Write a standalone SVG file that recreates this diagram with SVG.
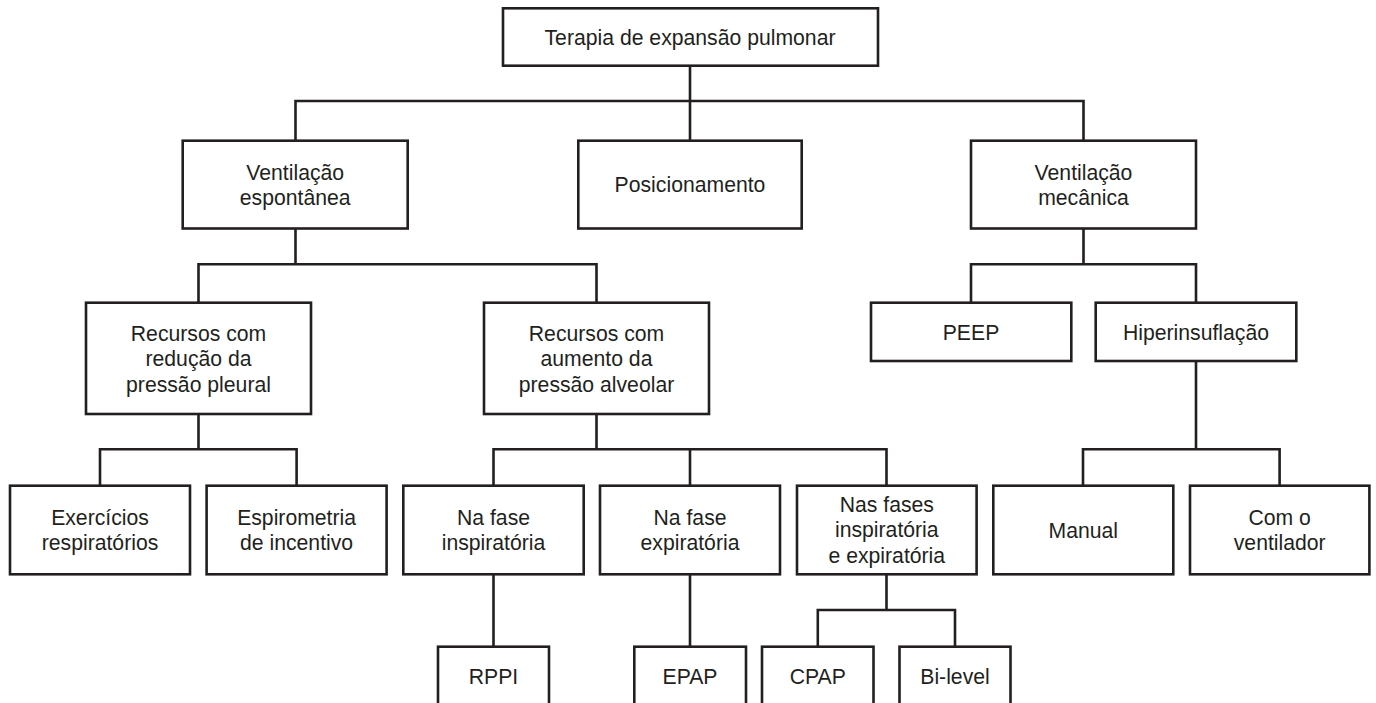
<svg xmlns="http://www.w3.org/2000/svg" width="1376" height="703" viewBox="0 0 1376 703">
<style>
.box{fill:#ffffff;stroke:#231f20;stroke-width:2.6}
.ln{fill:none;stroke:#231f20;stroke-width:2.6;stroke-linecap:square}
text{font-family:"Liberation Sans",Arial,sans-serif;font-size:21.2px;fill:#231f20;text-anchor:middle}
</style>
<rect width="1376" height="703" fill="#ffffff"/>
<g id="connectors">
<path class="ln" d="M690,66 V101 M295.5,101 H1083.5 M295.5,101 V140.7 M690,101 V140.7 M1083.5,101 V140.7"/>
<path class="ln" d="M295.5,228.5 V264.3 M198.5,264.3 H596.5 M198.5,264.3 V303 M596.5,264.3 V303"/>
<path class="ln" d="M1083.5,228.5 V264.3 M971,264.3 H1196 M971,264.3 V303 M1196,264.3 V303"/>
<path class="ln" d="M198.5,414 V449.3 M100,449.3 H296.6 M100,449.3 V485.7 M296.6,449.3 V485.7"/>
<path class="ln" d="M596.5,414 V449.3 M493.5,449.3 H886.5 M493.5,449.3 V485.7 M690,449.3 V485.7 M886.5,449.3 V485.7"/>
<path class="ln" d="M1196,361 V449.3 M1083,449.3 H1279.6 M1083,449.3 V485.7 M1279.6,449.3 V485.7"/>
<path class="ln" d="M493.5,574.3 V646.7 M690,574.3 V646.7"/>
<path class="ln" d="M886.5,574.3 V610 M817.8,610 H955 M817.8,610 V646.7 M955,610 V646.7"/>
</g>
<g id="n-root"><rect class="box" x="503" y="8.3" width="375" height="57.4"/><text x="690" y="44.5">Terapia de expansão pulmonar</text></g>
<g id="n-vent-esp"><rect class="box" x="182.7" y="140.7" width="225" height="87.8"/><text x="295.2" y="179.5">Ventilação</text><text x="295.2" y="204.5">espontânea</text></g>
<g id="n-posic"><rect class="box" x="578.3" y="140.7" width="223.4" height="87.8"/><text x="690" y="192">Posicionamento</text></g>
<g id="n-vent-mec"><rect class="box" x="971" y="140.7" width="225" height="87.8"/><text x="1083.5" y="179.5">Ventilação</text><text x="1083.5" y="204.5">mecânica</text></g>
<g id="n-red"><rect class="box" x="86" y="302.7" width="225" height="111.3"/><text x="198.5" y="341">Recursos com</text><text x="198.5" y="366">redução da</text><text x="198.5" y="391.5">pressão pleural</text></g>
<g id="n-aum"><rect class="box" x="484" y="302.7" width="225" height="111.3"/><text x="596.5" y="341">Recursos com</text><text x="596.5" y="366">aumento da</text><text x="596.5" y="391.5">pressão alveolar</text></g>
<g id="n-peep"><rect class="box" x="871" y="302.7" width="200.3" height="58.3"/><text x="971" y="339.5">PEEP</text></g>
<g id="n-hiper"><rect class="box" x="1095.7" y="302.7" width="200.6" height="58.3"/><text x="1196" y="339.5">Hiperinsuflação</text></g>
<g id="n-exerc"><rect class="box" x="10" y="485.7" width="180" height="88.6"/><text x="100" y="524.5">Exercícios</text><text x="100" y="549.5">respiratórios</text></g>
<g id="n-espiro"><rect class="box" x="206.6" y="485.7" width="180" height="88.6"/><text x="296.6" y="524.5">Espirometria</text><text x="296.6" y="549.5">de incentivo</text></g>
<g id="n-insp"><rect class="box" x="403.3" y="485.7" width="180.4" height="88.6"/><text x="493.5" y="524.5">Na fase</text><text x="493.5" y="549.5">inspiratória</text></g>
<g id="n-exp"><rect class="box" x="600" y="485.7" width="180" height="88.6"/><text x="690" y="524.5">Na fase</text><text x="690" y="549.5">expiratória</text></g>
<g id="n-ambas"><rect class="box" x="797" y="485.7" width="179.6" height="88.6"/><text x="886.8" y="511.5">Nas fases</text><text x="886.8" y="537">inspiratória</text><text x="886.8" y="562.5">e expiratória</text></g>
<g id="n-manual"><rect class="box" x="993.3" y="485.7" width="180" height="88.6"/><text x="1083.3" y="538">Manual</text></g>
<g id="n-ventilador"><rect class="box" x="1190" y="485.7" width="179.4" height="88.6"/><text x="1279.7" y="524.5">Com o</text><text x="1279.7" y="549.5">ventilador</text></g>
<g id="n-rppi"><rect class="box" x="438" y="646.7" width="111" height="70"/><text x="493.5" y="683.5">RPPI</text></g>
<g id="n-epap"><rect class="box" x="634.3" y="646.7" width="111.7" height="70"/><text x="690" y="683.5">EPAP</text></g>
<g id="n-cpap"><rect class="box" x="762" y="646.7" width="111.5" height="70"/><text x="817.8" y="683.5">CPAP</text></g>
<g id="n-bilevel"><rect class="box" x="899.5" y="646.7" width="111" height="70"/><text x="955" y="683.5">Bi-level</text></g>
</svg>
